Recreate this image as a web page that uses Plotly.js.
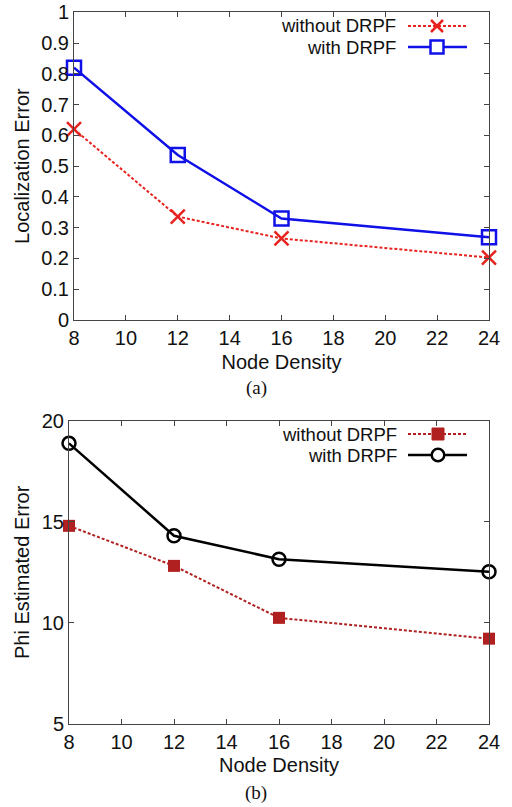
<!DOCTYPE html>
<html><head><meta charset="utf-8">
<script src="https://cdn.plot.ly/plotly-3.0.1.min.js"></script>
<style>body{margin:0;padding:0;background:#fff}#chart{width:512px;height:807px}</style>
</head><body><div id="chart"></div>
<script>
const nodeDensity = [8, 12, 16, 24];
const locWithout = [0.62, 0.336, 0.265, 0.203];
const locWith = [0.82, 0.536, 0.33, 0.269];
const phiWithout = [14.8, 12.82, 10.25, 9.22];
const phiWith = [18.88, 14.31, 13.15, 12.53];
const xTicks = [8, 10, 12, 14, 16, 18, 20, 22, 24];
const locTicks = [0, 0.1, 0.2, 0.3, 0.4, 0.5, 0.6, 0.7, 0.8, 0.9, 1];
const locTickText = ['0','0.1','0.2','0.3','0.4','0.5','0.6','0.7','0.8','0.9','1'];
const phiTicks = [5, 10, 15, 20];
const seriesNames = ['without DRPF', 'with DRPF'];

const W = 512, H = 807;
const font = {family: 'Liberation Sans, Arial, sans-serif', size: 20, color: '#111'};
const legFont = {family: 'Liberation Sans, Arial, sans-serif', size: 18.5, color: '#111'};
const red = '#e8231f', blue = '#1010e8', darkred = '#b02020', black = '#000';

const traces = [
  {x: nodeDensity, y: locWithout, xaxis: 'x', yaxis: 'y', mode: 'lines+markers', name: seriesNames[0],
   line: {color: red, width: 2, dash: '3px,2px'}, marker: {symbol: 'x-thin', size: 14, line: {color: red, width: 2.5}, color: red}, cliponaxis: false},
  {x: nodeDensity, y: locWith, xaxis: 'x', yaxis: 'y', mode: 'lines+markers', name: seriesNames[1],
   line: {color: blue, width: 2.5}, marker: {symbol: 'square-open', size: 14, line: {color: blue, width: 2.5}, color: blue}, cliponaxis: false},
  {x: nodeDensity, y: phiWithout, xaxis: 'x2', yaxis: 'y2', mode: 'lines+markers', name: seriesNames[0],
   line: {color: darkred, width: 2, dash: '3px,2px'}, marker: {symbol: 'square', size: 12, color: darkred}, cliponaxis: false},
  {x: nodeDensity, y: phiWith, xaxis: 'x2', yaxis: 'y2', mode: 'lines+markers', name: seriesNames[1],
   line: {color: black, width: 2.5}, marker: {symbol: 'circle-open', size: 13, line: {color: black, width: 2.5}, color: black}, cliponaxis: false}
];

function px(x){return x/W;}
function py(y){return 1 - y/H;}

const axCommon = {showgrid: false, zeroline: false, showline: true, linecolor: '#444', linewidth: 1,
  mirror: 'ticks', ticks: 'inside', ticklen: 5, tickcolor: '#444', tickfont: font, automargin: false};

const L1a = 26, L1b = 47, L2a = 434, L2b = 455;

const layout = {
  width: W, height: H, margin: {l: 0, r: 0, t: 0, b: 0},
  paper_bgcolor: '#fff', plot_bgcolor: '#fff', showlegend: false, font: font,
  xaxis: Object.assign({}, axCommon, {domain: [px(74), px(489)], range: [8, 24], tickvals: xTicks, anchor: 'y',
    title: {text: 'Node Density', font: font, standoff: 6}}),
  yaxis: Object.assign({}, axCommon, {domain: [py(320), py(12.3)], range: [0, 1], tickvals: locTicks, ticktext: locTickText, anchor: 'x',
    title: {text: 'Localization Error', font: font, standoff: 6}}),
  xaxis2: Object.assign({}, axCommon, {domain: [px(69), px(489)], range: [8, 24], tickvals: xTicks, anchor: 'y2',
    title: {text: 'Node Density', font: font, standoff: 5}}),
  yaxis2: Object.assign({}, axCommon, {domain: [py(724), py(420.7)], range: [5, 20], tickvals: phiTicks, anchor: 'x2',
    title: {text: 'Phi Estimated Error', font: font, standoff: 6}}),
  annotations: [
    {xref: 'paper', yref: 'paper', x: px(256), y: py(388), yanchor: 'middle', text: '(a)', showarrow: false,
     font: {family: 'Liberation Serif, Times New Roman, serif', size: 19, color: '#111'}},
    {xref: 'paper', yref: 'paper', x: px(256), y: py(793), yanchor: 'middle', text: '(b)', showarrow: false,
     font: {family: 'Liberation Serif, Times New Roman, serif', size: 19, color: '#111'}},
    {xref: 'paper', yref: 'paper', x: px(397), y: py(L1a), xanchor: 'right', yanchor: 'middle', borderpad: 0, text: seriesNames[0], showarrow: false, font: legFont},
    {xref: 'paper', yref: 'paper', x: px(397), y: py(L1b), xanchor: 'right', yanchor: 'middle', borderpad: 0, text: seriesNames[1], showarrow: false, font: legFont},
    {xref: 'paper', yref: 'paper', x: px(398), y: py(L2a), xanchor: 'right', yanchor: 'middle', borderpad: 0, text: seriesNames[0], showarrow: false, font: legFont},
    {xref: 'paper', yref: 'paper', x: px(398), y: py(L2b), xanchor: 'right', yanchor: 'middle', borderpad: 0, text: seriesNames[1], showarrow: false, font: legFont}
  ],
  shapes: []
};

function seg(x0,y0,x1,y1,color,width,dash){
  layout.shapes.push({type:'line', xref:'paper', yref:'paper', x0:px(x0), y0:py(y0), x1:px(x1), y1:py(y1),
    line:{color:color, width:width, dash:dash||'solid'}});
}
function rect(cx,cy,s,color,fill,width){
  layout.shapes.push({type:'rect', xref:'paper', yref:'paper', x0:px(cx-s/2), x1:px(cx+s/2), y0:py(cy+s/2), y1:py(cy-s/2),
    line:{color:color, width:width}, fillcolor: fill});
}
function circ(cx,cy,r,color,width){
  layout.shapes.push({type:'circle', xref:'paper', yref:'paper', x0:px(cx-r), x1:px(cx+r), y0:py(cy+r), y1:py(cy-r),
    line:{color:color, width:width}, fillcolor:'#fff'});
}
// top legend samples
seg(408, L1a, 467, L1a, red, 2, '3px,2px');
seg(431, L1a-6, 443, L1a+6, red, 2.5); seg(431, L1a+6, 443, L1a-6, red, 2.5);
seg(408, L1b, 467, L1b, blue, 2.5);
rect(437, L1b, 13, blue, '#fff', 2.5);
// bottom legend samples
seg(408, L2a, 467, L2a, darkred, 2, '3px,2px');
rect(438, L2a, 12, darkred, darkred, 1);
seg(408, L2b, 467, L2b, black, 2.5);
circ(438, L2b, 6.3, black, 2.5);

Plotly.newPlot('chart', traces, layout, {staticPlot: true, displayModeBar: false});
</script></body></html>
